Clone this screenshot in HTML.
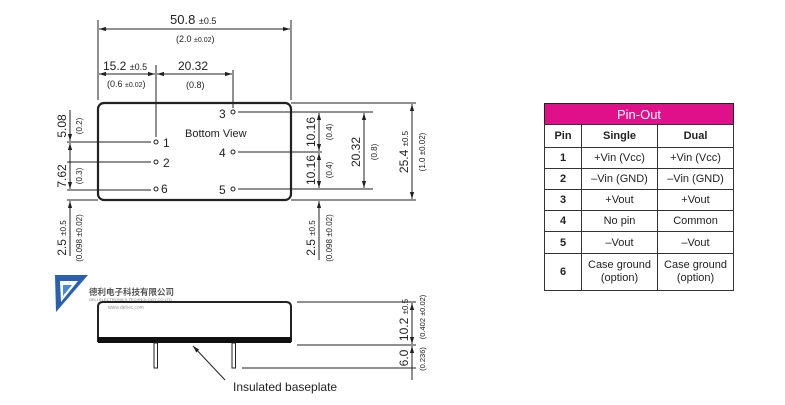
<!DOCTYPE html>
<html><head><meta charset="utf-8"><style>
body{margin:0;background:#fff;width:785px;height:400px;overflow:hidden}
svg text{font-family:"Liberation Sans","Noto Sans CJK SC",sans-serif;fill:#222}
td{padding:0}
</style></head><body>
<svg width="785" height="400" viewBox="0 0 785 400" xmlns="http://www.w3.org/2000/svg">
<defs>
<marker id="a" viewBox="0 0 10 10" refX="10" refY="5" markerWidth="7" markerHeight="7" orient="auto-start-reverse"><path d="M0,2 L10,5 L0,8 z" fill="#222"/></marker>
</defs>
<g stroke="#222" stroke-width="1" fill="none">
<rect x="98" y="103" width="193" height="97" rx="6" stroke-width="2.2"/>
<line x1="98" y1="20" x2="98" y2="100"/>
<line x1="291" y1="20" x2="291" y2="100"/>
<line x1="99" y1="29" x2="290" y2="29" marker-start="url(#a)" marker-end="url(#a)"/>
<line x1="156" y1="65" x2="156" y2="137"/>
<line x1="233" y1="70" x2="233" y2="108"/>
<line x1="99" y1="74" x2="155" y2="74" marker-start="url(#a)" marker-end="url(#a)"/>
<line x1="157" y1="74" x2="232" y2="74" marker-start="url(#a)" marker-end="url(#a)"/>
<line x1="67" y1="142" x2="151" y2="142"/>
<line x1="67" y1="162" x2="151" y2="162"/>
<line x1="67" y1="190" x2="151" y2="190"/>
<line x1="67" y1="200" x2="98" y2="200"/>
<line x1="70" y1="110" x2="70" y2="141" marker-end="url(#a)"/>
<line x1="70" y1="143" x2="70" y2="189" marker-start="url(#a)" marker-end="url(#a)"/>
<line x1="70" y1="256" x2="70" y2="201" marker-end="url(#a)"/>
<line x1="238" y1="112" x2="373" y2="112"/>
<line x1="238" y1="152" x2="322" y2="152"/>
<line x1="238" y1="189" x2="373" y2="189"/>
<line x1="291" y1="103" x2="416" y2="103"/>
<line x1="291" y1="200" x2="416" y2="200"/>
<line x1="319" y1="113" x2="319" y2="151" marker-start="url(#a)" marker-end="url(#a)"/>
<line x1="319" y1="153" x2="319" y2="188" marker-start="url(#a)" marker-end="url(#a)"/>
<line x1="319" y1="260" x2="319" y2="201" marker-end="url(#a)"/>
<line x1="364" y1="113" x2="364" y2="188" marker-start="url(#a)" marker-end="url(#a)"/>
<line x1="412" y1="104" x2="412" y2="199" marker-start="url(#a)" marker-end="url(#a)"/>
<circle cx="156" cy="142" r="2"/><circle cx="156" cy="162" r="2"/><circle cx="156" cy="189" r="2"/>
<circle cx="233" cy="112" r="2"/><circle cx="233" cy="152" r="2"/><circle cx="233" cy="189" r="2"/>
<path d="M98,342 L98,307 Q98,302 103,302 L286,302 Q291,302 291,307 L291,342" stroke-width="2"/>
<rect x="98" y="337" width="193" height="6" fill="#111" stroke="none"/>
<rect x="154" y="343" width="3.5" height="25" stroke-width="1"/>
<rect x="232" y="343" width="3.5" height="25" stroke-width="1"/>
<line x1="297" y1="302" x2="416" y2="302"/>
<line x1="297" y1="345" x2="416" y2="345"/>
<line x1="242" y1="368" x2="416" y2="368"/>
<line x1="412" y1="303" x2="412" y2="344" marker-start="url(#a)" marker-end="url(#a)"/>
<line x1="412" y1="346" x2="412" y2="380" marker-start="url(#a)"/>
<line x1="225" y1="380" x2="193" y2="346" marker-end="url(#a)"/>
</g>
<text x="170" y="24" font-size="13">50.8 <tspan font-size="9">±0.5</tspan></text>
<text x="176" y="42" font-size="9">(2.0 <tspan font-size="7">±0.02</tspan>)</text>
<text x="103" y="70" font-size="12">15.2 <tspan font-size="9">±0.5</tspan></text>
<text x="107" y="87" font-size="9">(0.6 <tspan font-size="7">±0.02</tspan>)</text>
<text x="178" y="70" font-size="12">20.32</text>
<text x="186" y="88" font-size="9">(0.8)</text>
<text x="185" y="137" font-size="11">Bottom View</text>
<text x="163" y="147" font-size="12">1</text>
<text x="163" y="167" font-size="12">2</text>
<text x="161" y="193" font-size="12">6</text>
<text x="219" y="118" font-size="12">3</text>
<text x="219" y="157" font-size="12">4</text>
<text x="219" y="194" font-size="12">5</text>
<text transform="translate(66,126) rotate(-90)" font-size="12" text-anchor="middle">5.08</text>
<text transform="translate(82,126) rotate(-90)" font-size="8" text-anchor="middle">(0.2)</text>
<text transform="translate(66,176) rotate(-90)" font-size="12" text-anchor="middle">7.62</text>
<text transform="translate(82,176) rotate(-90)" font-size="8" text-anchor="middle">(0.3)</text>
<text transform="translate(66,238) rotate(-90)" font-size="12" text-anchor="middle">2.5 <tspan font-size="8">±0.5</tspan></text>
<text transform="translate(82,238) rotate(-90)" font-size="8" text-anchor="middle">(0.098 ±0.02)</text>
<text transform="translate(315,132) rotate(-90)" font-size="12" text-anchor="middle">10.16</text>
<text transform="translate(332,132) rotate(-90)" font-size="8" text-anchor="middle">(0.4)</text>
<text transform="translate(315,170) rotate(-90)" font-size="12" text-anchor="middle">10.16</text>
<text transform="translate(332,170) rotate(-90)" font-size="8" text-anchor="middle">(0.4)</text>
<text transform="translate(360,152) rotate(-90)" font-size="12" text-anchor="middle">20.32</text>
<text transform="translate(377,152) rotate(-90)" font-size="8" text-anchor="middle">(0.8)</text>
<text transform="translate(408,152) rotate(-90)" font-size="12" text-anchor="middle">25.4 <tspan font-size="8">±0.5</tspan></text>
<text transform="translate(425,152) rotate(-90)" font-size="8" text-anchor="middle">(1.0 ±0.02)</text>
<text transform="translate(315,238) rotate(-90)" font-size="12" text-anchor="middle">2.5 <tspan font-size="8">±0.5</tspan></text>
<text transform="translate(332,238) rotate(-90)" font-size="8" text-anchor="middle">(0.098 ±0.02)</text>
<text transform="translate(408,320) rotate(-90)" font-size="12" text-anchor="middle">10.2 <tspan font-size="8">±0.5</tspan></text>
<text transform="translate(425,317) rotate(-90)" font-size="7.5" text-anchor="middle">(0.402 ±0.02)</text>
<text transform="translate(408,358) rotate(-90)" font-size="12" text-anchor="middle">6.0</text>
<text transform="translate(425,359) rotate(-90)" font-size="7.5" text-anchor="middle">(0.236)</text>
<text x="233" y="391" font-size="12">Insulated baseplate</text>
<polygon points="55,275 88,275 56,312" fill="#2b5fb0"/>
<polygon points="60,281 78,281 61,302" fill="#fff"/>
<polygon points="63,285 72,285 63,296" fill="#4a8ad8"/>
<text x="89" y="295" font-size="8.5" font-weight="bold" style="fill:#555">德利电子科技有限公司</text>
<text x="89" y="301" font-size="4" style="fill:#777">DELI ELECTRONICS TECHNOLOGY CO.LTD</text>
<text x="108" y="309" font-size="5" style="fill:#999">www.deli-ic.com</text>
</svg>
<div style="position:absolute;left:544px;top:103px;width:189px;">
<table style="border-collapse:collapse;width:189px;table-layout:fixed;font-family:'Liberation Sans',sans-serif;font-size:11px;color:#222;text-align:center;border:1.5px solid #222">
<colgroup><col style="width:37px"><col style="width:76px"><col style="width:76px"></colgroup>
<tr style="height:21px;background:#e0108a;color:#fff;font-size:13px"><td colspan="3">Pin-Out</td></tr>
<tr style="height:23px;font-weight:bold"><td style="border:1px solid #333">Pin</td><td style="border:1px solid #333">Single</td><td style="border:1px solid #333">Dual</td></tr>
<tr style="height:21px"><td style="border:1px solid #333;font-weight:bold">1</td><td style="border:1px solid #333">+Vin (Vcc)</td><td style="border:1px solid #333">+Vin (Vcc)</td></tr>
<tr style="height:21px"><td style="border:1px solid #333;font-weight:bold">2</td><td style="border:1px solid #333">–Vin (GND)</td><td style="border:1px solid #333">–Vin (GND)</td></tr>
<tr style="height:21px"><td style="border:1px solid #333;font-weight:bold">3</td><td style="border:1px solid #333">+Vout</td><td style="border:1px solid #333">+Vout</td></tr>
<tr style="height:21px"><td style="border:1px solid #333;font-weight:bold">4</td><td style="border:1px solid #333">No pin</td><td style="border:1px solid #333">Common</td></tr>
<tr style="height:22px"><td style="border:1px solid #333;font-weight:bold">5</td><td style="border:1px solid #333">–Vout</td><td style="border:1px solid #333">–Vout</td></tr>
<tr style="height:37px;line-height:13px"><td style="border:1px solid #333;font-weight:bold">6</td><td style="border:1px solid #333">Case ground<br>(option)</td><td style="border:1px solid #333">Case ground<br>(option)</td></tr>
</table></div>
</body></html>
